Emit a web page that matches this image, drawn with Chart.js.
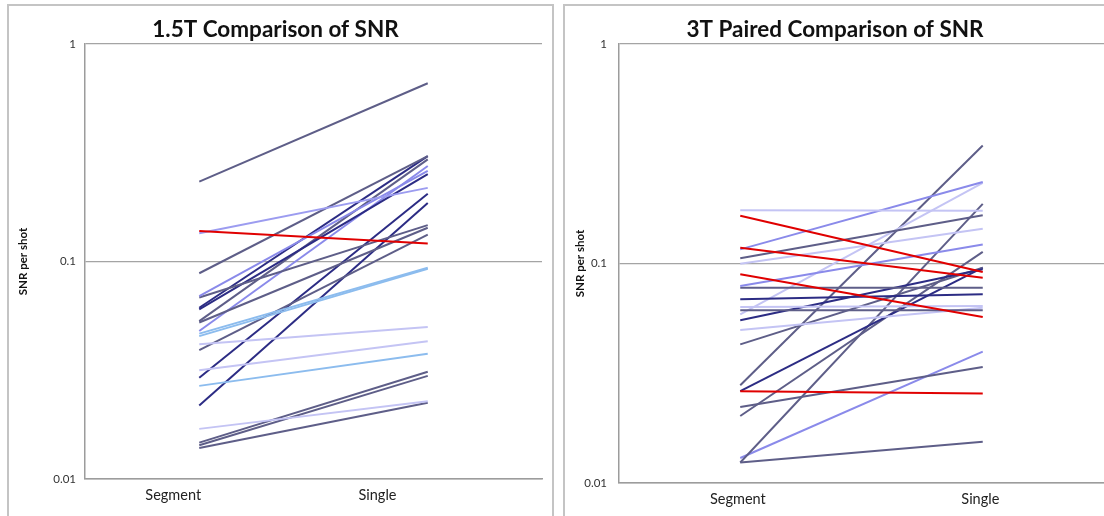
<!DOCTYPE html>
<html>
<head>
<meta charset="utf-8">
<title>SNR comparison</title>
<script src="https://cdn.jsdelivr.net/npm/chart.js@4.4.1/dist/chart.umd.min.js"></script>
<style>
  html, body { margin: 0; padding: 0; background: #fff; }
  body { width: 1104px; height: 516px; position: relative; overflow: hidden; }
  .panel { position: absolute; border: 2px solid #c4c4c4; box-sizing: border-box; pointer-events: none; }
  canvas { position: absolute; }
</style>
</head>
<body>
<div class="panel" style="left:7px; top:4px; width:547px; height:540px;"></div>
<div class="panel" style="left:563px; top:4px; width:560px; height:540px;"></div>
<canvas id="chart15" width="544" height="511" style="left:9px; top:6px;"></canvas>
<canvas id="chart3" width="538" height="511" style="left:566px; top:6px;"></canvas>
<script>
// categories on the x axis
const categories = ['Segment', 'Single'];
// y axis ticks (log scale)
const yTicks = [0.01, 0.1, 1];

// 1.5T: SNR per shot, segmented vs single-shot, one entry per subject
const segment15 = [0.233, 0.138, 0.135, 0.0883, 0.0694, 0.0683, 0.0613, 0.0603, 0.0532, 0.0524, 0.0479,
  0.0466, 0.0454, 0.0416, 0.0391, 0.0316, 0.0292, 0.0268, 0.0218, 0.0170, 0.0147, 0.0143, 0.0139];
const single15 = [0.66, 0.121, 0.218, 0.305, 0.261, 0.147, 0.305, 0.252, 0.295, 0.143, 0.275,
  0.0936, 0.0925, 0.050, 0.133, 0.043, 0.205, 0.0377, 0.186, 0.0228, 0.0311, 0.0298, 0.0224];
const tone15 = ['gray', 'red', 'lavender', 'gray', 'purple', 'gray', 'navy', 'navy', 'gray', 'gray', 'purple',
  'sky', 'sky', 'pale', 'gray', 'pale', 'navy', 'sky', 'navy', 'pale', 'gray', 'gray', 'gray'];

// 3T paired
const segment3 = [0.175, 0.165, 0.118, 0.0893, 0.0262, 0.116, 0.1056, 0.0998, 0.079, 0.0776, 0.0687,
  0.0612, 0.0633, 0.0551, 0.0587, 0.0498, 0.0428, 0.0279, 0.0262, 0.0222, 0.0202, 0.0124, 0.0130, 0.0124];
const single3 = [0.174, 0.0915, 0.0861, 0.0571, 0.0256, 0.235, 0.166, 0.144, 0.122, 0.0776, 0.0724,
  0.0612, 0.064, 0.0941, 0.233, 0.0629, 0.0957, 0.345, 0.0957, 0.0338, 0.113, 0.187, 0.0397, 0.0154];
const tone3 = ['pale', 'red', 'red', 'red', 'red', 'purple', 'gray', 'pale', 'purple', 'gray', 'navy',
  'gray', 'pale', 'navy', 'pale', 'pale', 'gray', 'gray', 'navy', 'gray', 'gray', 'gray', 'purple', 'gray'];

const palette = {
  gray: '#5e5e88',
  navy: '#2c2c84',
  purple: '#8a8aea',
  lavender: '#9c9cf0',
  pale: '#c4c4f4',
  sky: '#8cbcee',
  red: '#e00000'
};

const FONT = 'Lato, "Open Sans", sans-serif';

function buildDatasets(seg, sgl, tone) {
  return seg.map((v, i) => ({
    data: [{ x: 1, y: v }, { x: 2, y: sgl[i] }],
    borderColor: palette[tone[i]],
    borderWidth: 2,
    pointRadius: 0,
    fill: false,
    order: tone[i] === 'red' ? -1 : 0
  }));
}

function makeChart(id, title, datasets, opts) {
  const ctx = document.getElementById(id).getContext('2d');
  return new Chart(ctx, {
    type: 'line',
    data: { datasets: datasets },
    options: {
      responsive: false,
      animation: false,
      layout: { padding: { top: 0, left: 0, right: opts.padRight, bottom: 0 } },
      plugins: {
        legend: { display: false },
        tooltip: { enabled: false },
        title: {
          display: true,
          text: title,
          color: '#111',
          font: { family: FONT, size: 22.5, weight: 'bold', lineHeight: 1.2 },
          padding: { top: 10, bottom: 1 }
        }
      },
      scales: {
        x: {
          type: 'linear',
          min: 0.5,
          max: 2.5,
          grid: { display: false, drawTicks: false },
          border: { display: true, color: '#9c9c9c', width: 1.5 },
          afterBuildTicks: (scale) => {
            scale.ticks = opts.labelAt.map(v => ({ value: v }));
          },
          afterFit: (scale) => { scale.height = opts.xHeight; },
          ticks: {
            padding: 8,
            color: '#222',
            font: { family: FONT, size: 14.5 },
            callback: (value) => {
              const i = opts.labelAt.indexOf(value);
              return i >= 0 ? categories[i] : '';
            }
          }
        },
        y: {
          type: 'logarithmic',
          min: 0.01,
          max: 1,
          grid: { color: '#a4a4a4', lineWidth: 1.2, drawTicks: false },
          border: { display: true, color: '#9c9c9c', width: 1.5 },
          afterBuildTicks: (scale) => {
            scale.ticks = yTicks.map(v => ({ value: v }));
          },
          afterFit: (scale) => { scale.width = opts.yWidth; },
          title: {
            display: true,
            text: 'SNR per shot',
            color: '#111',
            font: { family: FONT, size: 11.5, weight: 'bold' },
            padding: { top: 7, bottom: 0 }
          },
          ticks: {
            padding: opts.yTickPad,
            color: '#333',
            font: { family: FONT, size: 11.5 },
            callback: (value) => String(value)
          }
        }
      }
    }
  });
}

makeChart('chart15', '1.5T Comparison of SNR', buildDatasets(segment15, single15, tone15),
  { padRight: 11, xHeight: 38, yWidth: 76, yTickPad: 9, labelAt: [0.886, 1.78] });
makeChart('chart3', '3T Paired Comparison of SNR', buildDatasets(segment3, single3, tone3),
  { padRight: 0, xHeight: 34, yWidth: 53, yTickPad: 12, labelAt: [0.99, 1.99] });
</script>
</body>
</html>
